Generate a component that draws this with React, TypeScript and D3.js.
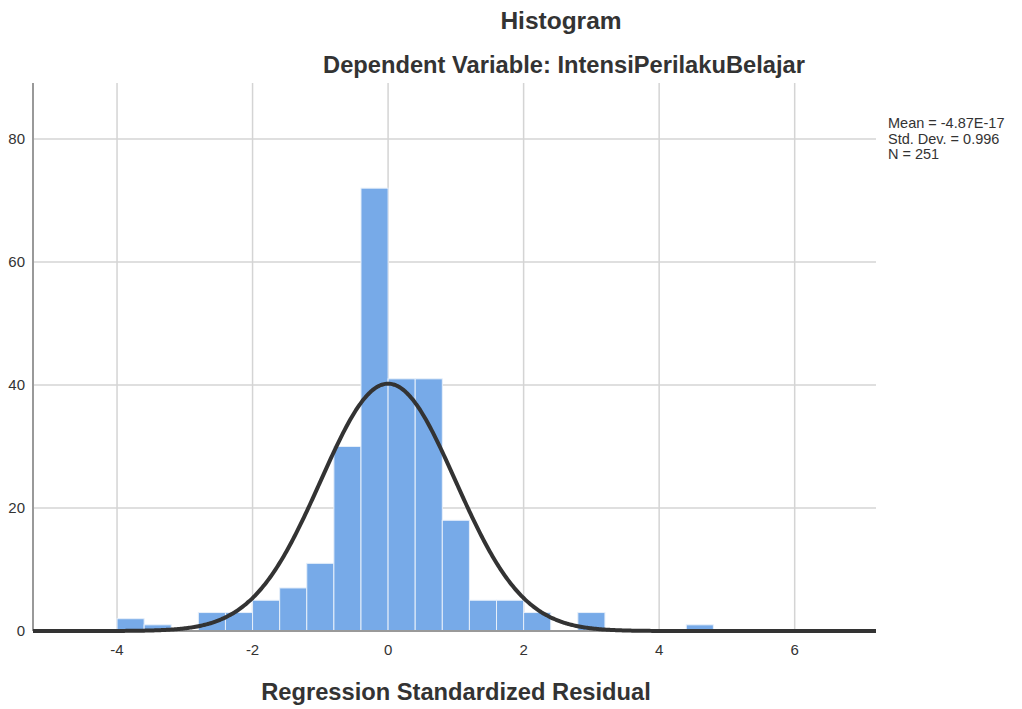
import React from "react";
import * as d3 from "d3";

// histogram bins (lower edge of each bar) and their frequencies
const binStarts = [-4.0, -3.6, -2.8, -2.4, -2.0, -1.6, -1.2, -0.8, -0.4, 0.0, 0.4, 0.8, 1.2, 1.6, 2.0, 2.8, 4.4];
const counts = [2, 1, 3, 3, 5, 7, 11, 30, 72, 41, 41, 18, 5, 5, 3, 3, 1];
const binWidth = 0.4;

const xTicks = [-4, -2, 0, 2, 4, 6];
const yTicks = [0, 20, 40, 60, 80];

const statLabels = ["Mean = -4.87E-17", "Std. Dev. = 0.996", "N = 251"];
const mean = -4.87e-17;
const stdDev = 0.996;
const n = 251;

const font = "'Liberation Sans', Arial, sans-serif";

const Chart = () => {
  const width = 1022;
  const height = 709;
  const left = 33;
  const right = 876;
  const top = 83;
  const bottom = 631;

  const xScale = d3.scaleLinear().domain([-5.24, 7.2]).range([left, right]);
  const yScale = d3.scaleLinear().domain([0, 89.1]).range([bottom, top]);

  const normal = (x: number) =>
    ((n * binWidth) / (stdDev * Math.sqrt(2 * Math.PI))) *
    Math.exp(-((x - mean) ** 2) / (2 * stdDev * stdDev));

  const curvePts = d3.range(-5.24, 7.2001, 0.02).map((x) => [x, normal(x)] as [number, number]);
  const line = d3
    .line<[number, number]>()
    .x((d) => xScale(d[0]))
    .y((d) => yScale(d[1]))
    .curve(d3.curveBasis);

  return (
    <svg width={width} height={height} style={{ display: "block", position: "absolute", left: 0, top: 0 }}>
      <rect width={width} height={height} fill="#ffffff" />
      <text x={561} y={29} textAnchor="middle" fontFamily={font} fontWeight="bold" fontSize={24.5} fill="#333">
        Histogram
      </text>
      <text x={564} y={73} textAnchor="middle" fontFamily={font} fontWeight="bold" fontSize={23.7} fill="#333">
        Dependent Variable: IntensiPerilakuBelajar
      </text>

      {/* grid */}
      <g stroke="#d4d4d4" strokeWidth={1.5}>
        {xTicks.map((t) => (
          <line key={"gx" + t} x1={xScale(t)} x2={xScale(t)} y1={top} y2={bottom} />
        ))}
        {yTicks
          .filter((t) => t > 0)
          .map((t) => (
            <line key={"gy" + t} x1={left} x2={right} y1={yScale(t)} y2={yScale(t)} />
          ))}
      </g>

      {/* bars */}
      <g fill="#77aae8" stroke="#e6effa" strokeWidth={1}>
        {binStarts.map((b, i) => (
          <rect
            key={i}
            x={xScale(b)}
            y={yScale(counts[i])}
            width={xScale(b + binWidth) - xScale(b)}
            height={yScale(0) - yScale(counts[i])}
          />
        ))}
      </g>

      {/* axes */}
      <line x1={left} x2={left} y1={top} y2={bottom} stroke="#999" strokeWidth={2} />
      <line x1={left} x2={right} y1={bottom} y2={bottom} stroke="#999" strokeWidth={2} />

      <path d={line(curvePts) || ""} fill="none" stroke="#333" strokeWidth={4} />

      <g fontFamily={font} fontSize={15} fill="#333">
        {yTicks.map((t) => (
          <text key={"ty" + t} x={25} y={yScale(t)} dy="0.35em" textAnchor="end">
            {t}
          </text>
        ))}
        {xTicks.map((t) => (
          <text key={"tx" + t} x={xScale(t)} y={655} textAnchor="middle">
            {t}
          </text>
        ))}
      </g>

      <g fontFamily={font} fontSize={14.5} fill="#333">
        {statLabels.map((s, i) => (
          <text key={s} x={888} y={128 + i * 15.5}>
            {s}
          </text>
        ))}
      </g>

      <text x={456} y={700} textAnchor="middle" fontFamily={font} fontWeight="bold" fontSize={23.7} fill="#333">
        Regression Standardized Residual
      </text>
    </svg>
  );
};

export default function App() {
  return <Chart />;
}
